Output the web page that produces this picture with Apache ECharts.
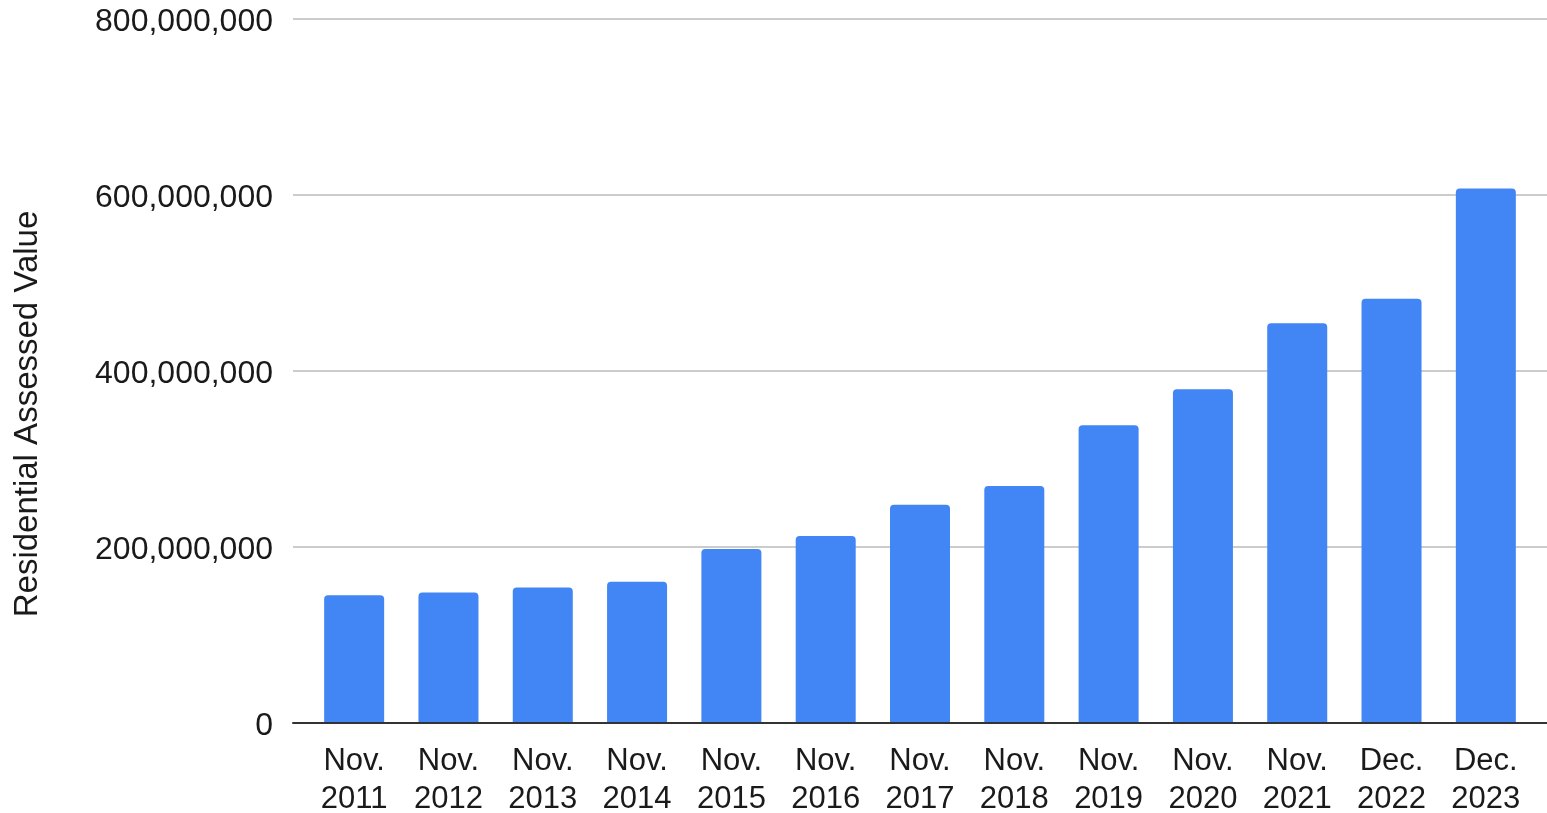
<!DOCTYPE html>
<html>
<head>
<meta charset="utf-8">
<style>
html,body{margin:0;padding:0;background:#fff;}
#chart{width:1547px;height:813px;}
</style>
<script src="https://cdn.jsdelivr.net/npm/echarts@6/dist/echarts.min.js"></script>
</head>
<body>
<div id="chart"></div>
<script>
const categories = ["Nov.\n2011","Nov.\n2012","Nov.\n2013","Nov.\n2014","Nov.\n2015","Nov.\n2016","Nov.\n2017","Nov.\n2018","Nov.\n2019","Nov.\n2020","Nov.\n2021","Dec.\n2022","Dec.\n2023"];
const values = [145200000,148300000,154000000,160400000,197700000,212600000,247900000,269200000,338300000,379400000,454300000,482000000,607500000];
const yMin = 0, yMax = 800000000, yInterval = 200000000;
const yTitle = "Residential Assessed Value";

const font = "Liberation Sans, Arial, sans-serif";
const chart = echarts.init(document.getElementById('chart'), null, {renderer:'canvas'});
chart.setOption({
  animation:false,
  grid:[
    {left:293, right:0, top:19, bottom:90, outerBoundsMode:'none', containLabel:false},
    {left:307, right:14, top:19, bottom:90, outerBoundsMode:'none', containLabel:false}
  ],
  xAxis:[
    {gridIndex:0, type:'category', data:categories, axisLabel:{show:false}, axisTick:{show:false},
     axisLine:{show:true, lineStyle:{color:'#333', width:2}}, splitLine:{show:false}, z:5},
    {gridIndex:1, type:'category', data:categories, axisTick:{show:false}, axisLine:{show:false},
     axisLabel:{color:'#1a1a1a', fontFamily:font, fontSize:31, lineHeight:38, margin:19, interval:0}}
  ],
  yAxis:[
    {gridIndex:0, type:'value', min:yMin, max:yMax, interval:yInterval,
     axisLine:{show:false}, axisTick:{show:false},
     axisLabel:{margin:20,
       formatter:v=>'{t|' + v.toLocaleString('en-US') + '}',
       rich:{t:{color:'#1a1a1a', fontFamily:font, fontSize:32, padding:[7,0,0,0]}}},
     splitLine:{lineStyle:{color:'#cccccc', width:2}},
     name:yTitle, nameLocation:'middle', nameGap:249, nameRotate:90,
     nameTextStyle:{color:'#1a1a1a', fontFamily:font, fontSize:33, padding:[0,86,0,0]}},
    {gridIndex:1, type:'value', min:yMin, max:yMax, interval:yInterval, show:false, splitLine:{show:false}}
  ],
  series:[{
    type:'bar', xAxisIndex:1, yAxisIndex:1, data:values, barWidth:60,
    itemStyle:{color:'#4285f4', borderRadius:[4,4,0,0]}
  }]
});
</script>
</body>
</html>
